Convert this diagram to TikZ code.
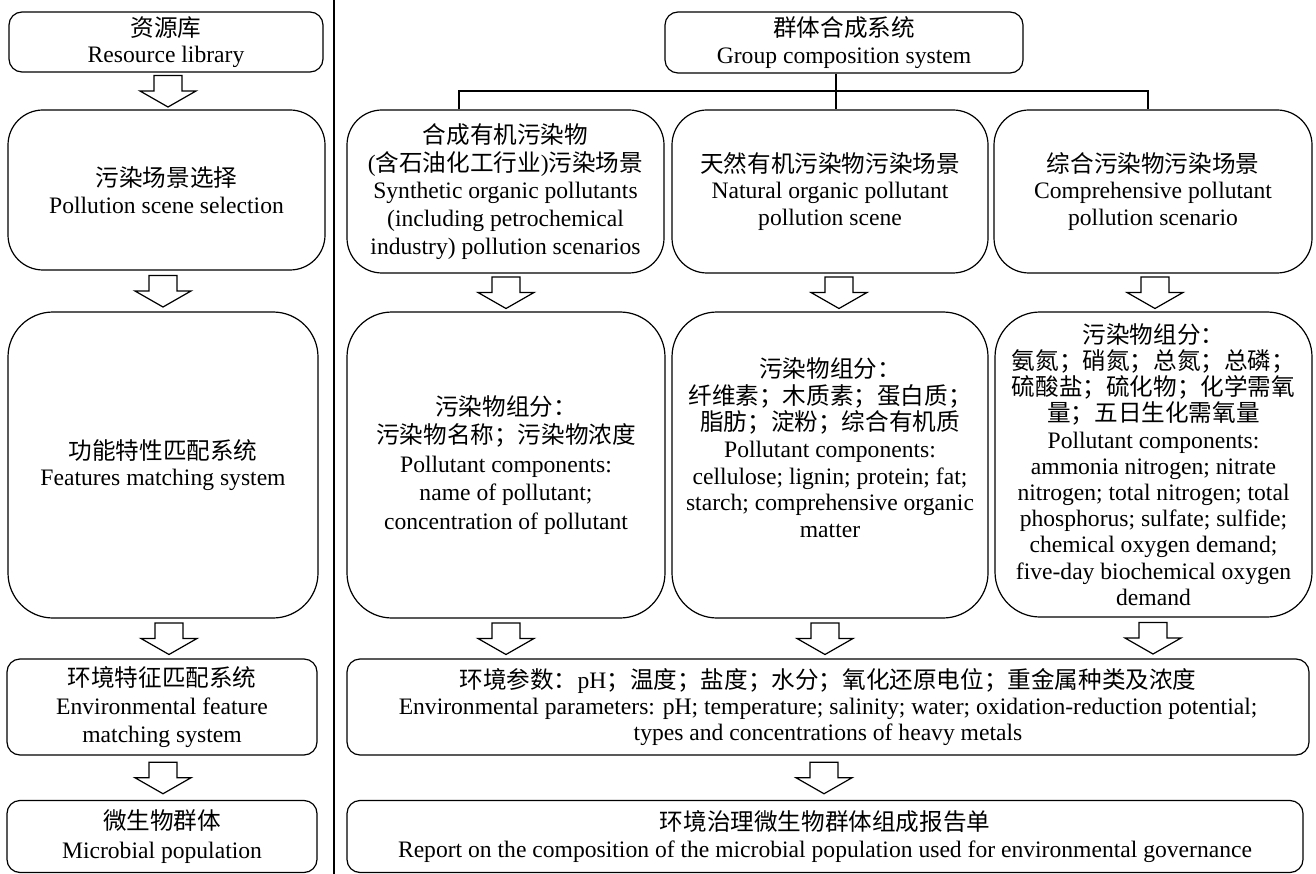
\documentclass[tikz,border=0pt]{standalone}
\usepackage{fontspec}
\setmainfont{Liberation Serif}
\newfontfamily\cjk{Noto Sans CJK SC}
\usetikzlibrary{calc}
\newcommand\blk[3]{%
  \path let \p1=($(#2.south)!0.5!(#3.north)$) in coordinate (m) at (#1pt,\y1);
  \draw[barrow,shift={(m)}] (-14,-15.5) -- (14,-15.5) -- (14,0) -- (28,0) -- (0,16) -- (-28,0) -- (-14,0) -- cycle;}
\begin{document}
\begin{tikzpicture}[x=1pt,y=-1pt,
  box/.style={draw, line width=1.2pt, align=center, inner sep=0pt, font=\fontsize{23.6}{26.5}\selectfont},
  small/.style={rounded corners=13pt},
  big/.style={rounded corners=35pt},
  huge/.style={rounded corners=45pt},
  barrow/.style={draw, line width=1.2pt, fill=white, line join=miter},
  link/.style={draw, line width=1.2pt}]
\useasboundingbox (0,0) rectangle (1316,874);
\fill[white] (0,0) rectangle (1316,874);

% divider
\coordinate (dtop) at (334,0);
\coordinate (dbot) at (334,874);
\draw[line width=1.3pt] (dtop) -- (dbot);

% left column
\node[box,small,minimum width=314pt,minimum height=60pt] (res) at (166,42)
  {{\cjk 资源库}\\Resource library};
\node[box,big,minimum width=317pt,minimum height=160pt] (scene) at (166.5,190)
  {{\cjk 污染场景选择}\\Pollution scene selection};
\node[box,huge,minimum width=310pt,minimum height=306pt] (feat) at (163,465)
  {{\cjk 功能特性匹配系统}\\Features matching system};
\node[box,small,minimum width=310pt,minimum height=96pt,font=\fontsize{23.6}{28}\selectfont] (envf) at (162,707)
  {{\cjk 环境特征匹配系统}\\Environmental feature\\matching system};
\node[box,small,minimum width=310pt,minimum height=72pt,font=\fontsize{23.6}{29}\selectfont] (micro) at (162,836.5)
  {{\cjk 微生物群体}\\Microbial population};

% right: top
\node[box,small,minimum width=358pt,minimum height=61pt] (group) at (844,42.5)
  {{\cjk 群体合成系统}\\Group composition system};

\node[box,big,minimum width=317pt,minimum height=163pt,font=\fontsize{23.6}{27.7}\selectfont] (sc1) at (505.5,191.5)
  {{\cjk 合成有机污染物}\\({\cjk 含石油化工行业}){\cjk 污染场景}\\Synthetic organic pollutants\\(including petrochemical\\industry) pollution scenarios};
\node[box,big,minimum width=316pt,minimum height=163pt] (sc2) at (830,191.5)
  {{\cjk 天然有机污染物污染场景}\\Natural organic pollutant\\pollution scene};
\node[box,big,minimum width=318pt,minimum height=163pt] (sc3) at (1153,191.5)
  {{\cjk 综合污染物污染场景}\\Comprehensive pollutant\\pollution scenario};

% tree connector
\coordinate (g) at ([xshift=-8pt]group.south);
\coordinate (t1) at ([xshift=-46.5pt]sc1.north);
\coordinate (t3) at ([xshift=-5pt]sc3.north);
\coordinate (bus) at (836,91);
\draw[link] (g) -- (g |- sc2.north);
\draw[link] (t1) -- (t1 |- bus) -- (t3 |- bus) -- (t3);

% pollutant component boxes
\node[box,huge,minimum width=318pt,minimum height=306pt,font=\fontsize{23.6}{28.5}\selectfont] (pc1) at (506,465)
  {{\cjk 污染物组分：}\\{\cjk 污染物名称；污染物浓度}\\Pollutant components:\\name of pollutant;\\concentration of pollutant};
\node[box,huge,minimum width=316pt,minimum height=306pt,font=\fontsize{23.6}{26.7}\selectfont] (pc2) at (830,465)
  {{\cjk 污染物组分：}\\{\cjk 纤维素；木质素；蛋白质；}\\{\cjk 脂肪；淀粉；综合有机质}\\Pollutant components:\\cellulose; lignin; protein; fat;\\starch; comprehensive organic\\matter\\ \strut};
\node[box,huge,minimum width=317pt,minimum height=305pt,font=\fontsize{23.6}{26.2}\selectfont] (pc3) at (1153.5,464.5)
  {{\cjk 污染物组分：}\\{\cjk 氨氮；硝氮；总氮；总磷；}\\{\cjk 硫酸盐；硫化物；化学需氧}\\{\cjk 量；五日生化需氧量}\\Pollutant components:\\ammonia nitrogen; nitrate\\nitrogen; total nitrogen; total\\phosphorus; sulfate; sulfide;\\chemical oxygen demand;\\five-day biochemical oxygen\\demand};

% bottom boxes
\node[box,small,minimum width=962pt,minimum height=96pt,font=\fontsize{23.6}{26}\selectfont] (env) at (828,707)
  {{\cjk 环境参数：}pH{\cjk ；温度；盐度；水分；氧化还原电位；重金属种类及浓度}\\Environmental parameters: pH; temperature; salinity; water; oxidation-reduction potential;\\types and concentrations of heavy metals};
\node[box,small,minimum width=956pt,minimum height=72pt,font=\fontsize{23.6}{27}\selectfont] (rep) at (825,836.5)
  {{\cjk 环境治理微生物群体组成报告单}\\Report on the composition of the microbial population used for environmental governance};

% block arrows
\blk{168}{res}{scene}
\blk{163}{scene}{feat}
\blk{169}{feat}{envf}
\blk{163}{envf}{micro}
\blk{506}{sc1}{pc1}
\blk{839}{sc2}{pc2}
\blk{1155}{sc3}{pc3}
\blk{506}{pc1}{env}
\blk{825}{pc2}{env}
\blk{1153}{pc3}{env}
\blk{824}{env}{rep}
\end{tikzpicture}
\end{document}
